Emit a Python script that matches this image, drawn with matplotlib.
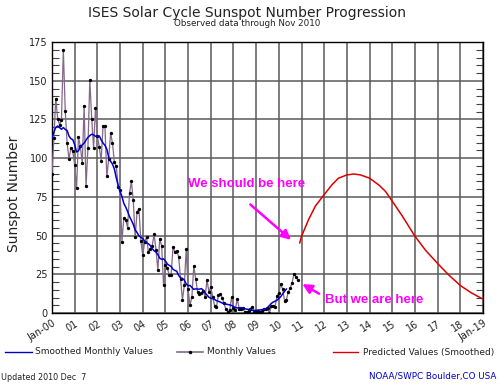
import numpy as np
import matplotlib
matplotlib.use("Agg")
import matplotlib.pyplot as plt
from matplotlib.lines import Line2D
from matplotlib.ticker import MultipleLocator

# monthly observed sunspot numbers, Jan 2000 .. Nov 2010
monthly = [
    90.1, 112.9, 138.5, 125.5, 121.6, 124.9, 170.1, 130.5, 109.7, 99.4, 106.8, 104.4,   # 2000
    95.6, 80.6, 113.5, 107.7, 96.6, 134.0, 81.8, 106.4, 150.7, 125.5, 106.5, 132.2,     # 2001
    114.1, 107.4, 98.4, 120.7, 120.8, 88.3, 99.6, 116.4, 109.6, 97.5, 95.0, 81.6,       # 2002
    79.5, 46.2, 61.5, 60.0, 55.2, 77.4, 85.0, 72.7, 48.8, 65.5, 67.3, 46.5,             # 2003
    37.3, 45.8, 49.1, 39.3, 41.5, 43.2, 51.1, 40.9, 27.7, 48.0, 43.5, 17.9,             # 2004
    31.3, 29.2, 24.5, 24.4, 42.6, 39.6, 40.2, 36.4, 22.1, 8.5, 18.0, 41.2,              # 2005
    15.3, 4.9, 10.6, 30.2, 22.3, 13.9, 12.2, 12.9, 14.4, 10.5, 21.4, 13.6,              # 2006
    16.9, 10.6, 4.8, 3.7, 11.7, 12.0, 10.0, 6.2, 2.4, 0.9, 1.7, 10.1,                   # 2007
    3.3, 2.1, 9.3, 2.9, 2.9, 3.1, 0.5, 0.5, 1.1, 2.9, 4.1, 0.8,                         # 2008
    1.5, 1.4, 0.7, 1.2, 2.9, 2.6, 3.5, 0.0, 4.3, 4.8, 4.1, 10.8,                        # 2009
    13.2, 18.8, 15.4, 8.0, 8.7, 13.6, 16.1, 19.6, 25.2, 23.5, 21.6,                     # 2010
]

# 13-month smoothed values, Jan 2000 .. May 2010
smoothed = [
    112.9, 116.8, 119.9, 120.8, 119.8, 118.7, 119.8, 118.6, 117.9, 114.3, 112.6, 112.0,
    108.7, 104.0, 104.8, 107.5, 108.6, 109.8, 111.7, 113.5, 114.6, 115.5, 115.1, 114.2,
    113.9, 114.4, 111.9, 109.8, 108.3, 105.8, 100.7, 98.0, 96.2, 93.0, 87.3, 82.3,
    78.6, 75.2, 70.8, 68.4, 65.6, 62.3, 59.9, 57.2, 53.7, 52.0, 49.8, 48.9,
    48.1, 46.5, 45.3, 44.7, 43.6, 41.6, 40.2, 39.4, 37.8, 35.4, 34.7, 35.0,
    33.6, 31.7, 30.8, 30.1, 28.3, 27.5, 27.0, 24.3, 22.7, 22.4, 21.3, 18.8,
    17.5, 17.9, 16.5, 15.3, 15.6, 15.5, 15.4, 15.8, 14.8, 12.9, 11.6, 10.2,
    9.6, 9.3, 8.8, 8.0, 7.6, 7.1, 6.5, 6.0, 5.8, 5.5, 5.3, 4.9,
    4.2, 3.6, 3.3, 3.4, 3.5, 3.3, 2.8, 2.5, 2.4, 2.1, 1.7, 1.7,
    1.8, 1.9, 2.0, 2.2, 2.3, 2.7, 3.6, 4.8, 6.2, 7.1, 7.6, 8.3,
    9.3, 10.6, 12.3, 14.0, 15.5,
]

# predicted smoothed values (years since Jan 2000, sunspot number)
pred_years = [10.92, 11.0, 11.32, 11.61, 12.0, 12.34, 12.63, 13.0, 13.31, 13.6, 14.0,
              14.4, 14.7, 15.0, 15.44, 16.0, 16.47, 17.0, 17.49, 18.0, 18.5, 19.0]
pred_values = [45.3, 49.6, 60.6, 69.1, 76.5, 82.8, 87.1, 89.2, 89.8, 89.2, 87.1,
               82.8, 78.6, 72.2, 62.7, 49.6, 40.5, 32.0, 24.6, 17.8, 12.9, 9.0]

tick_labels = ["Jan-00"] + ["%02d" % y for y in range(1, 19)] + ["Jan-19"]

BLUE = "#0000cc"
PURPLE = "#83688a"
RED = "#dd0000"
MAGENTA = "#ff00ff"
GRID = "#5a5a5a"

plt.rcParams["font.family"] = "DejaVu Sans"

fig = plt.figure(figsize=(5.0, 3.86), dpi=100)
ax = fig.add_axes([0.104, 0.189, 0.862, 0.702])

x_month = np.arange(len(monthly)) / 12.0
x_smooth = np.arange(len(smoothed)) / 12.0

ax.plot(x_month, monthly, color=PURPLE, lw=0.9, zorder=3)
ax.plot(x_month, monthly, ls="none", marker=".", ms=2.8, color="black", zorder=4)
ax.plot(x_smooth, smoothed, color=BLUE, lw=1.1, zorder=5)
ax.plot(pred_years, pred_values, color=RED, lw=1.1, zorder=5)

ax.set_xlim(0, 19)
ax.set_ylim(0, 175)
ax.set_xticks(range(20))
ax.set_xticklabels(tick_labels, rotation=32, ha="right", rotation_mode="anchor",
                   fontsize=7, color="#222222")
ax.yaxis.set_major_locator(MultipleLocator(25))
ax.yaxis.set_minor_locator(MultipleLocator(5))
ax.tick_params(axis="y", which="major", direction="in", length=0, labelsize=7, pad=3,
               right=True, labelcolor="#222222")
ax.tick_params(axis="y", which="minor", direction="in", length=5, width=0.8,
               right=True, color="#444444")
ax.tick_params(axis="x", which="major", length=0, pad=4)
ax.grid(True, which="major", color=GRID, lw=1.1, zorder=1)
ax.set_axisbelow(True)
for sp in ax.spines.values():
    sp.set_linewidth(1.0)
ax.set_ylabel("Sunspot Number", fontsize=10, labelpad=6, color="#222222")
ax.yaxis.set_label_coords(-0.073, 0.44)

# annotations
ax.annotate("", xy=(10.63, 46.1), xytext=(8.65, 71.3),
            arrowprops=dict(arrowstyle="-|>", color=MAGENTA, lw=1.8, mutation_scale=14))
ax.text(8.58, 83.1, "We should be here", color=MAGENTA, fontsize=9.5,
        fontweight="bold", ha="center", va="center", family="Liberation Sans")
ax.annotate("", xy=(10.93, 19.6), xytext=(11.88, 11.6),
            arrowprops=dict(arrowstyle="-|>", color=MAGENTA, lw=1.8, mutation_scale=14))
ax.text(12.03, 8.4, "But we are here", color=MAGENTA, fontsize=9.5,
        fontweight="bold", ha="left", va="center", family="Liberation Sans")

# titles
fig.text(0.494, 1 - 12.5 / 386, "ISES Solar Cycle Sunspot Number Progression",
         ha="center", va="center", fontsize=10, color="#222222")
fig.text(0.494, 1 - 24 / 386, "Observed data through Nov 2010",
         ha="center", va="center", fontsize=6.3, color="#222222")

# legend row
ly = 1 - 352 / 386
fig.add_artist(Line2D([5 / 500, 32 / 500], [ly, ly], color=BLUE, lw=1.0))
fig.text(35 / 500, ly, "Smoothed Monthly Values", fontsize=6.5, va="center", color="#222222")
fig.add_artist(Line2D([177 / 500, 203 / 500], [ly, ly], color=PURPLE, lw=1.2))
fig.add_artist(Line2D([190 / 500], [ly], color="black", marker=".", ms=3))
fig.text(207 / 500, ly, "Monthly Values", fontsize=6.5, va="center", color="#222222")
fig.add_artist(Line2D([333 / 500, 358 / 500], [ly, ly], color=RED, lw=1.0))
fig.text(363 / 500, ly, "Predicted Values (Smoothed)", fontsize=6.5, va="center", color="#222222")

by = 1 - 377 / 386
fig.text(0.002, by, "Updated 2010 Dec  7", fontsize=5.8, va="center", color="#222222")
fig.text(0.992, by, "NOAA/SWPC Boulder,CO USA", fontsize=6.3, va="center",
         ha="right", color=BLUE)

fig.savefig("out.png", dpi=100)
